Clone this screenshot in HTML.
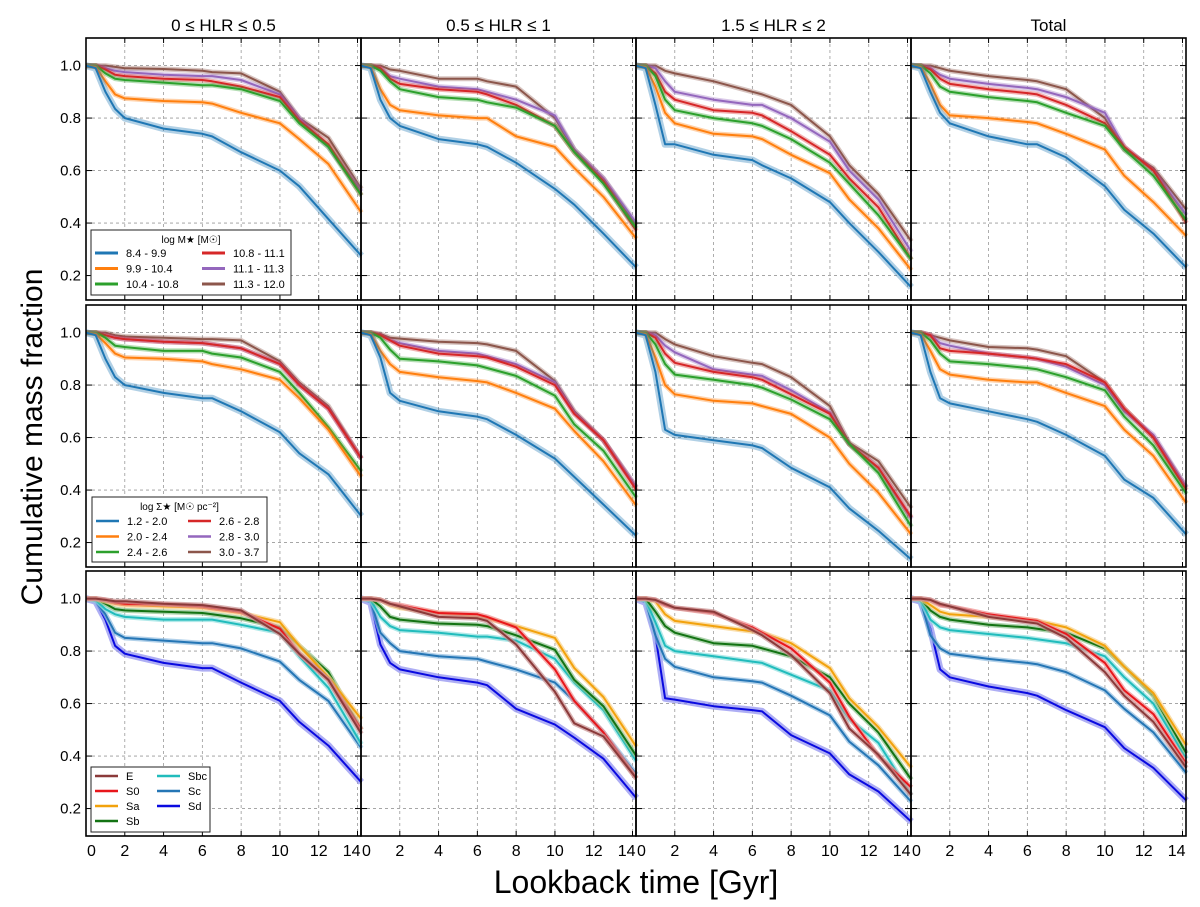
<!DOCTYPE html>
<html><head><meta charset="utf-8"><style>
html,body{margin:0;padding:0;background:#fff;}
svg text{font-family:"Liberation Sans","DejaVu Sans",sans-serif;}
</style></head><body>
<svg id="chart" width="1200" height="902" viewBox="0 0 1200 902" xmlns="http://www.w3.org/2000/svg">
<text x="0" y="0" transform="translate(42,437) rotate(-90)" text-anchor="middle" font-size="30">Cumulative mass fraction</text>
<text x="636" y="893" text-anchor="middle" font-size="32">Lookback time [Gyr]</text>
<g id="panels"></g>
</svg>
<script>
const times = [0,0.5,1,1.5,2,4,6,6.5,8,10,11,12.5,14.2];
const xTicks = [0,2,4,6,8,10,12,14];
const yTicks = [0.2,0.4,0.6,0.8,1.0];
const yTickLabels = ["0.2","0.4","0.6","0.8","1.0"];
const columnTitles = ["0 \u2264 HLR \u2264 0.5","0.5 \u2264 HLR \u2264 1","1.5 \u2264 HLR \u2264 2","Total"];
const massLabels = ["8.4 - 9.9","9.9 - 10.4","10.4 - 10.8","10.8 - 11.1","11.1 - 11.3","11.3 - 12.0"];
const densLabels = ["1.2 - 2.0","2.0 - 2.4","2.4 - 2.6","2.6 - 2.8","2.8 - 3.0","3.0 - 3.7"];
const typeLabels = ["E","S0","Sa","Sb","Sbc","Sc","Sd"];

const massHLR0 = [
 [1,0.99,0.90,0.835,0.80,0.76,0.74,0.73,0.67,0.60,0.54,0.415,0.275],
 [1,0.995,0.94,0.89,0.875,0.865,0.86,0.855,0.82,0.78,0.72,0.625,0.44],
 [1,1,0.97,0.95,0.945,0.935,0.925,0.925,0.91,0.865,0.78,0.69,0.505],
 [1,1,0.985,0.965,0.96,0.95,0.945,0.94,0.92,0.88,0.79,0.70,0.505],
 [1,1,0.99,0.98,0.975,0.965,0.96,0.96,0.945,0.89,0.80,0.69,0.52],
 [1,1,1,0.995,0.99,0.987,0.98,0.975,0.97,0.90,0.80,0.725,0.53]];
const massHLR1 = [
 [1,0.99,0.87,0.80,0.77,0.72,0.70,0.69,0.63,0.53,0.47,0.36,0.23],
 [1,0.995,0.91,0.85,0.83,0.81,0.80,0.80,0.73,0.69,0.61,0.50,0.34],
 [1,1,0.98,0.94,0.91,0.88,0.87,0.86,0.84,0.77,0.67,0.55,0.38],
 [1,1,0.99,0.95,0.93,0.91,0.90,0.89,0.85,0.77,0.67,0.56,0.37],
 [1,1,0.99,0.96,0.95,0.92,0.91,0.90,0.87,0.81,0.68,0.57,0.40],
 [1,1,1,0.985,0.98,0.95,0.95,0.94,0.92,0.80,0.68,0.57,0.39]];
const massHLR2 = [
 [1,0.99,0.85,0.70,0.70,0.66,0.64,0.62,0.57,0.48,0.40,0.29,0.155],
 [1,0.995,0.92,0.82,0.78,0.74,0.73,0.72,0.66,0.59,0.49,0.38,0.22],
 [1,1,0.96,0.87,0.83,0.80,0.78,0.77,0.72,0.63,0.55,0.43,0.26],
 [1,1,0.97,0.90,0.87,0.83,0.82,0.81,0.75,0.66,0.57,0.46,0.26],
 [1,1,0.99,0.94,0.90,0.87,0.85,0.85,0.80,0.71,0.60,0.49,0.29],
 [1,1,1,0.98,0.97,0.94,0.90,0.89,0.85,0.73,0.62,0.51,0.33]];
const massTotal = [
 [1,0.99,0.90,0.82,0.78,0.73,0.70,0.70,0.65,0.54,0.45,0.36,0.23],
 [1,0.995,0.93,0.85,0.81,0.80,0.785,0.78,0.74,0.68,0.58,0.48,0.35],
 [1,1,0.97,0.92,0.90,0.88,0.865,0.86,0.82,0.77,0.68,0.58,0.41],
 [1,1,0.985,0.95,0.93,0.91,0.895,0.89,0.85,0.78,0.69,0.60,0.40],
 [1,1,0.99,0.965,0.95,0.93,0.915,0.91,0.88,0.82,0.69,0.60,0.43],
 [1,1,1,0.99,0.98,0.96,0.945,0.94,0.91,0.80,0.68,0.61,0.45]];

const densHLR0 = [
 [1,0.99,0.90,0.83,0.80,0.77,0.75,0.75,0.70,0.62,0.54,0.46,0.30],
 [1,0.995,0.96,0.92,0.905,0.90,0.89,0.88,0.86,0.82,0.75,0.63,0.45],
 [1,1,0.98,0.95,0.945,0.93,0.93,0.92,0.905,0.85,0.77,0.64,0.47],
 [1,1,0.99,0.98,0.975,0.965,0.96,0.955,0.94,0.88,0.80,0.71,0.52],
 [1,1,0.99,0.98,0.975,0.965,0.96,0.955,0.94,0.88,0.80,0.71,0.52],
 [1,1,1,0.99,0.985,0.98,0.975,0.975,0.97,0.89,0.81,0.72,0.52]];
const densHLR1 = [
 [1,0.99,0.905,0.77,0.74,0.70,0.68,0.67,0.61,0.52,0.45,0.345,0.225],
 [1,0.995,0.93,0.88,0.85,0.83,0.815,0.81,0.77,0.71,0.625,0.51,0.34],
 [1,1,0.98,0.935,0.90,0.89,0.875,0.865,0.835,0.76,0.65,0.55,0.37],
 [1,1,0.99,0.97,0.95,0.92,0.91,0.905,0.87,0.80,0.69,0.59,0.40],
 [1,1,0.99,0.97,0.96,0.93,0.92,0.91,0.88,0.81,0.695,0.59,0.41],
 [1,1,0.995,0.98,0.977,0.965,0.96,0.955,0.93,0.815,0.70,0.59,0.41]];
const densHLR2 = [
 [1,0.99,0.85,0.63,0.61,0.59,0.57,0.56,0.485,0.41,0.33,0.245,0.135],
 [1,0.995,0.905,0.80,0.765,0.74,0.73,0.72,0.69,0.60,0.50,0.39,0.23],
 [1,1,0.955,0.88,0.84,0.82,0.80,0.79,0.745,0.67,0.575,0.465,0.26],
 [1,1,0.98,0.92,0.885,0.85,0.83,0.82,0.765,0.69,0.575,0.485,0.295],
 [1,1,0.99,0.95,0.925,0.86,0.84,0.835,0.78,0.695,0.575,0.485,0.29],
 [1,1,1,0.975,0.955,0.91,0.885,0.88,0.83,0.72,0.58,0.51,0.33]];
const densTotal = [
 [1,0.99,0.85,0.75,0.73,0.70,0.67,0.66,0.61,0.53,0.44,0.37,0.23],
 [1,0.995,0.93,0.86,0.84,0.82,0.81,0.81,0.77,0.72,0.63,0.53,0.35],
 [1,1,0.97,0.92,0.89,0.88,0.865,0.86,0.83,0.78,0.68,0.57,0.385],
 [1,1,0.99,0.94,0.93,0.92,0.905,0.90,0.88,0.81,0.71,0.60,0.40],
 [1,1,0.99,0.96,0.95,0.92,0.905,0.90,0.87,0.80,0.70,0.61,0.41],
 [1,1,0.99,0.98,0.97,0.945,0.94,0.935,0.91,0.81,0.71,0.60,0.41]];

const typeHLR0 = [
 [1,1,0.995,0.99,0.99,0.98,0.975,0.97,0.955,0.865,0.79,0.69,0.485],
 [1,1,0.995,0.985,0.98,0.978,0.97,0.965,0.95,0.885,0.79,0.69,0.50],
 [1,1,0.99,0.98,0.975,0.97,0.965,0.96,0.945,0.91,0.82,0.70,0.54],
 [1,1,0.98,0.96,0.955,0.95,0.945,0.94,0.925,0.89,0.82,0.72,0.50],
 [1,0.995,0.96,0.94,0.93,0.92,0.92,0.92,0.90,0.87,0.78,0.66,0.445],
 [1,0.99,0.94,0.87,0.85,0.84,0.83,0.83,0.81,0.76,0.69,0.61,0.43],
 [1,0.99,0.92,0.82,0.79,0.755,0.735,0.735,0.68,0.61,0.53,0.44,0.30]];
const typeHLR1 = [
 [1,1,0.995,0.98,0.97,0.93,0.925,0.915,0.825,0.645,0.525,0.475,0.315],
 [1,1,0.995,0.98,0.975,0.945,0.94,0.93,0.89,0.73,0.61,0.49,0.315],
 [1,1,0.995,0.975,0.965,0.945,0.93,0.925,0.895,0.85,0.735,0.625,0.435],
 [1,1,0.97,0.93,0.92,0.905,0.90,0.895,0.86,0.805,0.69,0.59,0.40],
 [1,0.995,0.93,0.895,0.88,0.87,0.855,0.855,0.84,0.77,0.68,0.575,0.38],
 [1,0.99,0.87,0.83,0.80,0.78,0.77,0.76,0.73,0.68,0.61,0.49,0.33],
 [1,0.985,0.825,0.755,0.73,0.70,0.68,0.67,0.58,0.52,0.47,0.39,0.24]];
const typeHLR2 = [
 [1,1,0.995,0.98,0.965,0.95,0.88,0.86,0.785,0.64,0.505,0.405,0.25],
 [1,1,0.995,0.975,0.965,0.945,0.89,0.87,0.81,0.68,0.55,0.40,0.28],
 [1,1,0.99,0.94,0.915,0.895,0.875,0.87,0.83,0.735,0.62,0.51,0.355],
 [1,1,0.95,0.895,0.87,0.83,0.82,0.81,0.78,0.70,0.60,0.49,0.31],
 [1,0.995,0.91,0.82,0.80,0.78,0.76,0.755,0.71,0.65,0.54,0.45,0.25],
 [1,0.99,0.86,0.77,0.74,0.70,0.685,0.68,0.63,0.555,0.455,0.365,0.225],
 [1,0.985,0.86,0.62,0.615,0.59,0.575,0.57,0.48,0.41,0.33,0.265,0.15]];
const typeTotal = [
 [1,1,0.995,0.98,0.97,0.93,0.91,0.905,0.85,0.72,0.63,0.53,0.355],
 [1,1,0.995,0.975,0.97,0.94,0.92,0.915,0.865,0.755,0.65,0.56,0.37],
 [1,1,0.975,0.95,0.94,0.93,0.92,0.915,0.89,0.82,0.74,0.64,0.44],
 [1,1,0.955,0.93,0.92,0.90,0.89,0.885,0.87,0.81,0.74,0.63,0.41],
 [1,0.995,0.92,0.89,0.88,0.865,0.85,0.845,0.83,0.78,0.70,0.60,0.39],
 [1,0.99,0.86,0.81,0.79,0.77,0.755,0.75,0.72,0.65,0.58,0.49,0.335],
 [1,0.99,0.885,0.73,0.70,0.665,0.64,0.63,0.575,0.51,0.43,0.355,0.23]];

const rowsData = [[massHLR0,massHLR1,massHLR2,massTotal],[densHLR0,densHLR1,densHLR2,densTotal],[typeHLR0,typeHLR1,typeHLR2,typeTotal]];
const propColors = ["#1f77b4","#ff7f0e","#2ca02c","#d62728","#9467bd","#8c564b"];
const typeColors = ["#8b3a3a","#e8161b","#f2a20c","#137313","#21bcbc","#2576b5","#0a0ae0"];
const typeBands = ["#c89090","#f08c8c","#f8d088","#8cc08c","#90e0e0","#90bce0","#8c8cf0"];

const NS = "http://www.w3.org/2000/svg";
const colX = [86,361,636,911], colW = 275;
const rowY = [38,305,571], rowH = [262,262,265];
const xMax = 14.18, yTop = 1.105, pxPerUnit = 262.5;
function mk(tag, attrs, parent){const e=document.createElementNS(NS,tag);for(const k in attrs)e.setAttribute(k,attrs[k]);if(parent)parent.appendChild(e);return e;}
function xScale(c,t){return colX[c] + t/xMax*colW;}
function yScale(r,v){return rowY[r] + (yTop - v)*pxPerUnit;}

const root = document.getElementById('panels');
for(let r=0;r<3;r++){
 for(let c=0;c<4;c++){
  const g = mk('g',{},root);
  
  
  const L=colX[c], T=rowY[r], H=rowH[r];
  xTicks.forEach(t=>{ if(t>0){ const x=xScale(c,t);
    const gl=mk('line',{x1:x,x2:x,y1:T,y2:T+H,stroke:'#999','stroke-width':0.8,'stroke-dasharray':'3,3'},g);
    
    
    mk('line',{x1:x,x2:x,y1:T,y2:T+5,stroke:'#000','stroke-width':1},g);
    mk('line',{x1:x,x2:x,y1:T+H,y2:T+H-5,stroke:'#000','stroke-width':1},g);
  }});
  yTicks.forEach((v,i)=>{ const y=yScale(r,v);
    const gl=mk('line',{x1:L,x2:L+colW,y1:y,y2:y,stroke:'#999','stroke-width':0.8,'stroke-dasharray':'3,3'},g);
    
    
    mk('line',{x1:L,x2:L+6,y1:y,y2:y,stroke:'#000','stroke-width':1},g);
    mk('line',{x1:L+colW,x2:L+colW-6,y1:y,y2:y,stroke:'#000','stroke-width':1},g);
    if(c===0){ const tl=mk('text',{x:L-5,y:y+5,'text-anchor':'end','font-size':15},g); tl.textContent=yTickLabels[i];
      
       }
  });
  const data = rowsData[r][c];
  for(let s=data.length-1;s>=0;s--){
   const vals=data[s];
   const pts = times.map((t,i)=>xScale(c,t).toFixed(1)+','+yScale(r,vals[i]).toFixed(1)).join(' ');
   const col = r===2 ? typeColors[s] : propColors[s];
   const band = r===2 ? typeBands[s] : col;
   const bw = (r===2 && s===6)||(r<2 && s===0) ? 7 : 5;
   const b=mk('polyline',{points:pts,fill:'none',stroke:band,'stroke-opacity':r===2?0.7:0.35,'stroke-width':bw,'stroke-linejoin':'round'},g);
   
   
   const ln=mk('polyline',{points:pts,fill:'none',stroke:col,'stroke-width':2,'stroke-linejoin':'round'},g);
   
   
  }
  const fr=mk('rect',{x:L,y:T,width:colW,height:H,fill:'none',stroke:'#000','stroke-width':1.6},g);
  
  
  if(r===0){ const tt=mk('text',{x:L+colW/2,y:31,'text-anchor':'middle','font-size':17},g); tt.textContent=columnTitles[c];
    
     }
  if(r===2){ xTicks.forEach(t=>{ let x=xScale(c,t), anc='middle';
    if(t===0){x=L+1;anc='start';} if(t===14){x=x+3;anc='end';}
    const tl=mk('text',{x:x,y:856,'text-anchor':anc,'font-size':16},g); tl.textContent=String(t);
    
     }); }
 }
}
function legend(name,x,y,w,h,title,labels,colors,ncolRows,col2x,lw,rowStart,rowStep,fs){
 const g=mk('g',{},root);
 
 
 mk('rect',{x:x,y:y,width:w,height:h,fill:'#fff',stroke:'#222','stroke-width':1},g);
 if(title){const t=mk('text',{x:x+w/2,y:y+13,'text-anchor':'middle','font-size':10},g);t.textContent=title;}
 labels.forEach((lab,i)=>{ const ci=Math.floor(i/ncolRows), ri=i%ncolRows;
   const lx = ci===0 ? x+4 : x+col2x; const ly=rowStart+ri*rowStep;
   const e=mk('g',{},g);
   
   
   mk('line',{x1:lx,x2:lx+23,y1:ly,y2:ly,stroke:colors[i],'stroke-width':lw},e);
   const tx=mk('text',{x:lx+31,y:ly+4,'font-size':fs},e); tx.textContent=lab; });
}
legend('legend-stellar-mass',91,230,200,65,'log M\u2605 [M\u2609]',massLabels,propColors,3,111,3,253,15.5,11);
legend('legend-surface-density',92,497,175,65,'log \u03a3\u2605 [M\u2609 pc\u207b\u00b2]',densLabels,propColors,3,96,2.5,521,15.5,11);
legend('legend-morphology',91,767,119,65,null,typeLabels,typeColors,4,66,2.5,776,15,11);
</script>
</body></html>
